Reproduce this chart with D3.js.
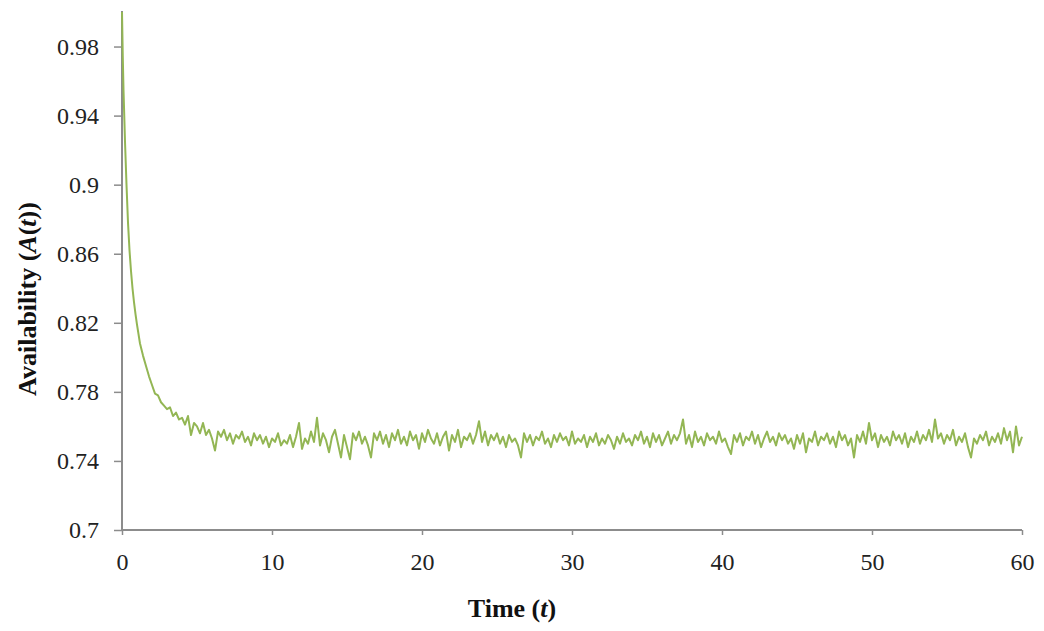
<!DOCTYPE html>
<html>
<head>
<meta charset="utf-8">
<script src="https://cdn.jsdelivr.net/npm/d3@7"></script>
<style>
  html, body { margin: 0; padding: 0; background: #fff; }
  svg { display: block; }
</style>
</head>
<body>
<svg id="chart" width="1044" height="631"></svg>
<script>
const decayTimes = [0, 0.05, 0.1, 0.15, 0.2, 0.3, 0.4, 0.5, 0.6, 0.7, 0.8, 0.9, 1.0,
  1.2, 1.4, 1.6, 1.8, 2.0, 2.2, 2.4, 2.6, 2.8, 3.0, 3.2, 3.4, 3.6, 3.8, 4.0, 4.2, 4.4, 4.6, 4.8];
const decayValues = [1.000, 0.975, 0.955, 0.940, 0.925, 0.900, 0.878, 0.862, 0.850, 0.840, 0.832, 0.825, 0.819,
  0.808, 0.801, 0.795, 0.789, 0.784, 0.779, 0.778, 0.774, 0.772, 0.770, 0.771, 0.766, 0.768, 0.764, 0.765, 0.761, 0.766, 0.755, 0.762];

// steady state, every 0.2 from t = 5 to t = 60
const steadyStart = 5;
const steadyStep = 0.2;
const steadyValues = [
  0.760, 0.756, 0.762, 0.755, 0.758, 0.753, 0.746, 0.757, 0.754, 0.758,
  0.752, 0.756, 0.750, 0.755, 0.753, 0.757, 0.751, 0.754, 0.749, 0.756,
  0.752, 0.755, 0.750, 0.754, 0.748, 0.753, 0.751, 0.756, 0.749, 0.752,
  0.750, 0.755, 0.748, 0.754, 0.762, 0.747, 0.753, 0.750, 0.757, 0.751,
  0.765, 0.749, 0.756, 0.752, 0.745, 0.754, 0.758, 0.750, 0.742, 0.755,
  0.748, 0.741, 0.756, 0.752, 0.757, 0.750, 0.754, 0.749, 0.742, 0.756,
  0.752, 0.757, 0.750, 0.755, 0.748, 0.756, 0.752, 0.758, 0.750, 0.754,
  0.749, 0.757, 0.752, 0.755, 0.747, 0.756, 0.751, 0.758, 0.753, 0.750,
  0.756, 0.749, 0.754, 0.757, 0.746, 0.755, 0.751, 0.758, 0.748, 0.754,
  0.752, 0.756, 0.750, 0.755, 0.763, 0.751, 0.757, 0.749, 0.755, 0.752,
  0.756, 0.750, 0.754, 0.748, 0.755, 0.751, 0.753, 0.749, 0.742, 0.756,
  0.751, 0.755, 0.749, 0.754, 0.752, 0.757, 0.750, 0.753, 0.748, 0.755,
  0.751, 0.756, 0.752, 0.754, 0.749, 0.757, 0.750, 0.753, 0.751, 0.755,
  0.748, 0.754, 0.751, 0.756, 0.749, 0.753, 0.750, 0.755, 0.752, 0.747,
  0.754, 0.750, 0.756, 0.751, 0.753, 0.749, 0.755, 0.752, 0.757, 0.750,
  0.754, 0.748, 0.756, 0.751, 0.755, 0.749, 0.753, 0.757, 0.750, 0.755,
  0.752, 0.756, 0.764, 0.750, 0.755, 0.748, 0.757, 0.751, 0.754, 0.749,
  0.756, 0.752, 0.754, 0.750, 0.757, 0.751, 0.753, 0.748, 0.744, 0.755,
  0.751, 0.756, 0.749, 0.754, 0.752, 0.757, 0.750, 0.755, 0.748, 0.753,
  0.757, 0.751, 0.754, 0.749, 0.756, 0.752, 0.755, 0.750, 0.753, 0.747,
  0.755, 0.750, 0.756, 0.745, 0.753, 0.751, 0.757, 0.749, 0.754, 0.752,
  0.756, 0.750, 0.754, 0.748, 0.757, 0.752, 0.755, 0.749, 0.753, 0.742,
  0.755, 0.751, 0.757, 0.750, 0.762, 0.752, 0.756, 0.748, 0.755, 0.751,
  0.754, 0.749, 0.757, 0.752, 0.755, 0.750, 0.756, 0.748, 0.754, 0.751,
  0.757, 0.750, 0.755, 0.752, 0.758, 0.751, 0.764, 0.753, 0.756, 0.750,
  0.755, 0.752, 0.758, 0.749, 0.754, 0.751, 0.756, 0.748, 0.742, 0.753,
  0.750, 0.755, 0.752, 0.757, 0.749, 0.754, 0.751, 0.756, 0.750, 0.759,
  0.752, 0.757, 0.745, 0.760, 0.749, 0.754
];

const yTicks = [0.7, 0.74, 0.78, 0.82, 0.86, 0.9, 0.94, 0.98];
const xTicks = [0, 10, 20, 30, 40, 50, 60];

const points = decayTimes.map((t, i) => ({ t: t, a: decayValues[i] }))
  .concat(steadyValues.map((a, i) => ({ t: +(steadyStart + i * steadyStep).toFixed(2), a: a })));

const margin = { top: 12, right: 22, bottom: 101, left: 122 };
const width = 1044, height = 631;

const svg = d3.select("#chart");

const x = d3.scaleLinear().domain([0, 60]).range([margin.left, width - margin.right]);
const y = d3.scaleLinear().domain([0.7, 1.0]).range([height - margin.bottom, margin.top]);

const axisColor = "#8c8c8c";
const font = "'Liberation Serif', 'Times New Roman', serif";

// y axis
const yAxis = svg.append("g")
  .attr("transform", `translate(${margin.left},0)`)
  .call(d3.axisLeft(y).tickValues(yTicks).tickSize(8).tickPadding(15).tickFormat(d => String(+d.toFixed(2))));

// x axis
const xAxis = svg.append("g")
  .attr("transform", `translate(0,${height - margin.bottom})`)
  .call(d3.axisBottom(x).tickValues(xTicks).tickSize(5).tickPadding(18));

[yAxis, xAxis].forEach(g => {
  g.attr("font-family", null);
  g.select(".domain").attr("stroke", axisColor).attr("stroke-width", 2);
  g.selectAll(".tick line").attr("stroke", axisColor).attr("stroke-width", 1.5);
  g.selectAll(".tick text")
    .attr("fill", "#222")
    .style("font-family", font)
    .style("font-size", "24px");
});
// y axis: extend domain to the top, no end caps
yAxis.select(".domain").attr("d", `M0,${y(0.7)}V${y(1.0) - 1}`);
xAxis.select(".domain").attr("d", `M${x(0)},0H${x(60)}`);

// the availability curve
const line = d3.line()
  .x(d => x(d.t))
  .y(d => y(d.a));

svg.append("path")
  .datum(points)
  .attr("fill", "none")
  .attr("stroke", "#93b654")
  .attr("stroke-width", 2)
  .attr("stroke-linejoin", "round")
  .attr("d", line);

// titles
const xTitle = svg.append("text")
  .attr("x", 512)
  .attr("y", 617)
  .attr("text-anchor", "middle")
  .style("font-family", font)
  .style("font-size", "26px")
  .style("font-weight", "bold")
  .attr("fill", "#111");
xTitle.append("tspan").text("Time (");
xTitle.append("tspan").style("font-style", "italic").text("t");
xTitle.append("tspan").text(")");

const yTitle = svg.append("text")
  .attr("transform", "translate(36,299) rotate(-90)")
  .attr("text-anchor", "middle")
  .style("font-family", font)
  .style("font-size", "26px")
  .style("font-weight", "bold")
  .attr("fill", "#111");
yTitle.append("tspan").text("Availability (");
yTitle.append("tspan").style("font-style", "italic").text("A");
yTitle.append("tspan").text("(");
yTitle.append("tspan").style("font-style", "italic").text("t");
yTitle.append("tspan").text("))");
</script>
</body>
</html>
